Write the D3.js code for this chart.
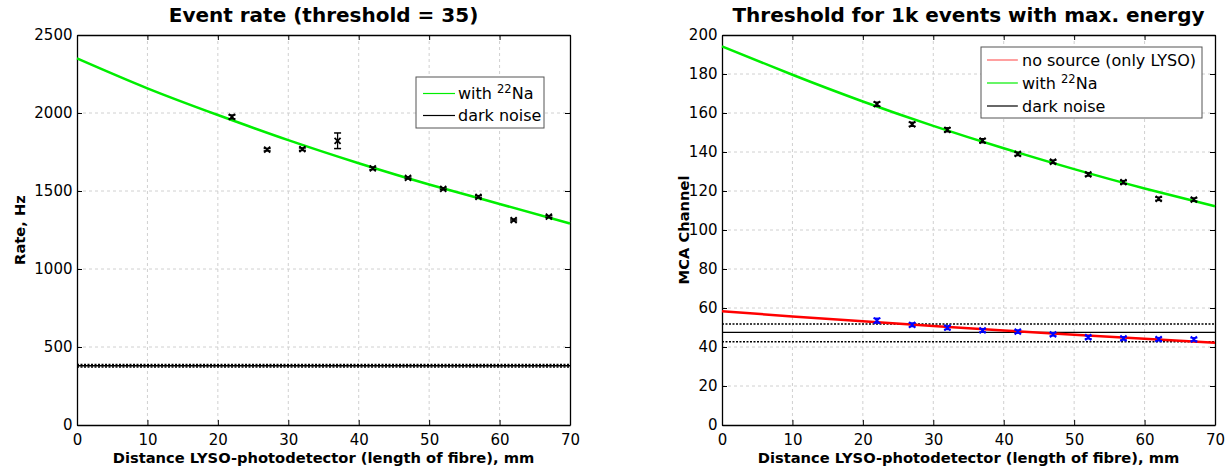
<!DOCTYPE html>
<html><head><meta charset="utf-8">
<script src="https://cdn.jsdelivr.net/npm/d3@7"></script>
<style>
body{margin:0;background:#fff;}
text{font-family:"DejaVu Sans",Arial,Helvetica,sans-serif;}
</style></head>
<body><svg id="c" width="1232" height="471"></svg>
<script>
// ---- data ----
const distances = [22,27,32,37,42,47,52,57,62,67];
const rateNa = [1975,1765,1768,1822,1645,1584,1514,1463,1314,1336];
const rateNaErr = [12,8,8,50,8,6,6,7,6,6];
const rateDark = 380, rateDarkErr = 8;
const fitX = [0,10,20,30,40,50,60,70];
const rateFit = [2350,2158,1987,1826,1678,1542,1417,1292];

const thrNa = [164.5,154.2,151.4,145.8,139.0,135.0,128.5,124.5,116.0,115.6];
const thrNaErr = [1,1,1,1,0.8,0.8,0.8,0.8,0.8,0.8];
const thrFitNa = [194.2,179.6,165.9,153.4,141.9,131.2,121.3,112.2];
const thrNo = [53.5,51.4,49.9,48.5,47.9,46.5,45.0,44.4,44.0,43.9];
const thrNoErr = [1.2,0.9,0.9,0.8,0.8,0.8,0.8,0.8,0.8,0.8];
const thrFitNo = [58.3,55.7,53.2,50.8,48.5,46.3,44.2,42.2];
const thrDark = 47.5, thrDarkHi = 51.8, thrDarkLo = 42.7;

const xTicks = [0,10,20,30,40,50,60,70];
const rateTicks = [0,500,1000,1500,2000,2500];
const thrTicks = [0,20,40,60,80,100,120,140,160,180,200];

const svg = d3.select("#c");
const GREEN = "#00ee00", RED = "#ff0000", BLUE = "#0000ff";
const FONT = '"DejaVu Sans",Arial,sans-serif';

function panel(o){
  const g = svg.append("g");
  const x = d3.scaleLinear().domain([0,70]).range([o.x0,o.x1]);
  const y = d3.scaleLinear().domain(o.yd).range([425,35]);
  // grid
  g.append("g").selectAll("line").data(xTicks.slice(1,-1)).join("line")
    .attr("x1",d=>x(d)).attr("x2",d=>x(d)).attr("y1",35).attr("y2",425)
    .attr("stroke","#d0d0d0").attr("stroke-dasharray","3,3").attr("stroke-width",1);
  g.append("g").selectAll("line").data(o.yt.slice(1,-1)).join("line")
    .attr("y1",d=>y(d)).attr("y2",d=>y(d)).attr("x1",o.x0).attr("x2",o.x1)
    .attr("stroke","#d0d0d0").attr("stroke-dasharray","3,3").attr("stroke-width",1);
  // axes
  const fmt = d3.format("d");
  const ax = g.append("g").attr("transform","translate(0,425)")
    .call(d3.axisBottom(x).tickValues(xTicks).tickFormat(fmt).tickSizeInner(-5).tickSizeOuter(0).tickPadding(9));
  const axT = g.append("g").attr("transform","translate(0,35)")
    .call(d3.axisTop(x).tickValues(xTicks).tickSizeInner(-5).tickSizeOuter(0).tickFormat(""));
  const ay = g.append("g").attr("transform",`translate(${o.x0},0)`)
    .call(d3.axisLeft(y).tickValues(o.yt).tickFormat(fmt).tickSizeInner(-5).tickSizeOuter(0).tickPadding(4.5));
  const ayR = g.append("g").attr("transform",`translate(${o.x1},0)`)
    .call(d3.axisRight(y).tickValues(o.yt).tickSizeInner(-5).tickSizeOuter(0).tickFormat(""));
  [ax,axT,ay,ayR].forEach(a=>{
    a.attr("font-family",FONT).attr("font-size",15);
    a.select(".domain").attr("stroke","#000").attr("stroke-width",1.3);
    a.selectAll(".tick line").attr("stroke","#000").attr("stroke-width",1);
    a.selectAll(".tick text").attr("font-size",15).attr("fill","#000").style("font-family",FONT);
  });
  ax.selectAll(".tick text").attr("dy","0.72em");
  // titles
  svg.append("text").attr("x",(o.x0+o.x1)/2).attr("y",22).attr("text-anchor","middle")
    .attr("font-size",20).attr("font-weight","bold").text(o.title);
  svg.append("text").attr("x",(o.x0+o.x1)/2).attr("y",463).attr("text-anchor","middle")
    .attr("font-size",14.7).attr("font-weight","bold")
    .text("Distance LYSO-photodetector (length of fibre), mm");
  svg.append("text").attr("transform",`translate(${o.ylx},230) rotate(-90)`).attr("text-anchor","middle")
    .attr("font-size",14.7).attr("font-weight","bold").text(o.ylabel);
  return {g,x,y};
}

function errPts(g,x,y,xs,vs,es,color){
  const pg = g.append("g").attr("stroke",color).attr("fill","none");
  xs.forEach((xv,i)=>{
    const px = x(xv), py = y(vs[i]), t = y(vs[i]+es[i]), b = y(vs[i]-es[i]);
    pg.append("line").attr("x1",px).attr("x2",px).attr("y1",t).attr("y2",b).attr("stroke-width",1.3);
    pg.append("line").attr("x1",px-3.5).attr("x2",px+3.5).attr("y1",t).attr("y2",t).attr("stroke-width",1.5);
    pg.append("line").attr("x1",px-3.5).attr("x2",px+3.5).attr("y1",b).attr("y2",b).attr("stroke-width",1.5);
    const s=3;
    pg.append("path").attr("d",`M${px-s},${py-s}L${px+s},${py+s}M${px-s},${py+s}L${px+s},${py-s}`).attr("stroke-width",1.8);
  });
}

function legendRow(lg,r,x1,x2,tx0,cy){
  lg.append("line").attr("x1",x1).attr("x2",x2).attr("y1",cy).attr("y2",cy).attr("stroke",r.c).attr("stroke-width",1.2);
  const tx = lg.append("text").attr("x",tx0).attr("y",cy+5.8).attr("font-size",16);
  tx.append("tspan").text(r.t);
  if(r.sup){ tx.append("tspan").attr("dy",-6).attr("font-size",11.5).text(r.sup);
    tx.append("tspan").attr("dy",6).text(r.t2); }
}

// ---- left panel ----
const L = panel({x0:77,x1:570,yd:[0,2500],yt:rateTicks,title:"Event rate (threshold = 35)",ylabel:"Rate, Hz",ylx:25});
{
  const {g,x,y} = L;
  g.append("line").attr("x1",x(0)).attr("x2",x(70)).attr("y1",y(rateDark)).attr("y2",y(rateDark))
    .attr("stroke","#000").attr("stroke-width",1.5);
  [rateDark+rateDarkErr, rateDark-rateDarkErr].forEach(v=>{
    g.append("line").attr("x1",x(0)).attr("x2",x(70)).attr("y1",y(v)).attr("y2",y(v))
      .attr("stroke","#000").attr("stroke-width",1.5).attr("stroke-dasharray","2,1.5");
  });
  const line = d3.line().x((d,i)=>x(fitX[i])).y(d=>y(d)).curve(d3.curveNatural);
  g.append("path").datum(rateFit).attr("d",line).attr("fill","none").attr("stroke",GREEN).attr("stroke-width",2.5);
  errPts(g,x,y,distances,rateNa,rateNaErr,"#000");
  const lg = g.append("g");
  lg.append("rect").attr("x",416).attr("y",77).attr("width",128).attr("height",51)
    .attr("fill","#fff").attr("stroke","#555").attr("stroke-width",1);
  [{c:GREEN,t:"with ",sup:"22",t2:"Na"},{c:"#000",t:"dark noise"}]
    .forEach((r,i)=>legendRow(lg,r,423,455,458,93.5+i*22));
}

// ---- right panel ----
const R = panel({x0:722,x1:1215,yd:[0,200],yt:thrTicks,title:"Threshold for 1k events with max. energy",ylabel:"MCA Channel",ylx:689});
{
  const {g,x,y} = R;
  g.append("line").attr("x1",x(0)).attr("x2",x(70)).attr("y1",y(thrDark)).attr("y2",y(thrDark))
    .attr("stroke","#000").attr("stroke-width",1.4);
  [thrDarkHi,thrDarkLo].forEach(v=>{
    g.append("line").attr("x1",x(0)).attr("x2",x(70)).attr("y1",y(v)).attr("y2",y(v))
      .attr("stroke","#000").attr("stroke-width",1.5).attr("stroke-dasharray","2,1.5");
  });
  const line = d3.line().x((d,i)=>x(fitX[i])).y(d=>y(d)).curve(d3.curveNatural);
  g.append("path").datum(thrFitNa).attr("d",line).attr("fill","none").attr("stroke",GREEN).attr("stroke-width",2.5);
  g.append("path").datum(thrFitNo).attr("d",line).attr("fill","none").attr("stroke",RED).attr("stroke-width",2.5);
  errPts(g,x,y,distances,thrNa,thrNaErr,"#000");
  errPts(g,x,y,distances,thrNo,thrNoErr,BLUE);
  const lg = g.append("g");
  lg.append("rect").attr("x",981).attr("y",47).attr("width",221).attr("height",71)
    .attr("fill","#fff").attr("stroke","#555").attr("stroke-width",1);
  [{c:"#ff6060",t:"no source (only LYSO)"},{c:GREEN,t:"with ",sup:"22",t2:"Na"},{c:"#000",t:"dark noise"}]
    .forEach((r,i)=>legendRow(lg,r,987,1018,1022,60+i*23));
}
</script></body></html>
